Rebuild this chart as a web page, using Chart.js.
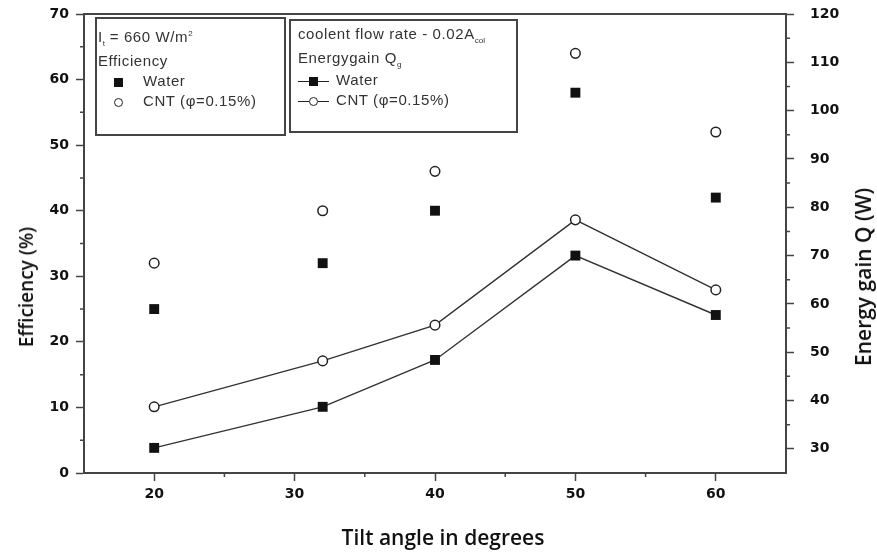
<!DOCTYPE html>
<html>
<head>
<meta charset="utf-8">
<script src="https://cdn.jsdelivr.net/npm/chart.js@4.4.1/dist/chart.umd.min.js"></script>
<style>
  body { margin: 0; background: #fff; }
  #wrap { position: relative; width: 877px; height: 552px; }
  .box { position: absolute; border: 2px solid #444; box-sizing: border-box; font-family: "Liberation Sans", Arial, sans-serif; font-size: 15px; letter-spacing: 0.6px; color: #333; }
  .row { position: absolute; left: 0; white-space: nowrap; line-height: 18px; }
  .sq { display: inline-block; width: 9px; height: 9px; background: #111; vertical-align: middle; }
  .ci { display: inline-block; width: 7px; height: 7px; border: 1.5px solid #222; border-radius: 50%; vertical-align: middle; background: #fff; }
  .ln { display: inline-block; width: 11px; height: 0; border-top: 1.5px solid #222; vertical-align: middle; }
  .title { position: absolute; font-family: "Open Sans", sans-serif; font-weight: 600; color: #111; white-space: nowrap; }
  sub, sup { font-size: 8px; letter-spacing: 0; }
</style>
</head>
<body>
<div id="wrap">
  <canvas id="tiltChart"></canvas>

  <div class="box" style="left:95px;top:17px;width:191px;height:119px;">
    <div class="row" style="left:1px;top:6px;">I<sub>t</sub> = 660 W/m<sup>2</sup></div>
    <div class="row" style="left:1px;top:33px;">Efficiency</div>
    <div class="row" style="left:17px;top:53px;"><span class="sq"></span><span style="margin-left:20px;">Water</span></div>
    <div class="row" style="left:17px;top:73px;"><span class="ci"></span><span style="margin-left:20px;">CNT (φ=0.15%)</span></div>
  </div>

  <div class="box" style="left:289px;top:19px;width:229px;height:114px;">
    <div class="row" style="left:7px;top:4px;">coolent flow rate - 0.02A<sub>col</sub></div>
    <div class="row" style="left:7px;top:28px;">Energygain Q<sub>g</sub></div>
    <div class="row" style="left:7px;top:50px;"><span class="ln"></span><span class="sq"></span><span class="ln"></span><span style="margin-left:7px;">Water</span></div>
    <div class="row" style="left:7px;top:70px;"><span class="ln"></span><span class="ci"></span><span class="ln"></span><span style="margin-left:7px;">CNT (φ=0.15%)</span></div>
  </div>

  <div class="title" style="left:443px;top:537px;font-size:21px;transform:translate(-50%,-50%);">Tilt angle in degrees</div>
  <div class="title" style="left:26px;top:287px;font-size:19px;transform:translate(-50%,-50%) rotate(-90deg);">Efficiency (%)</div>
  <div class="title" style="left:863px;top:277px;font-size:21px;transform:translate(-50%,-50%) rotate(-90deg);">Energy gain Q (W)</div>
</div>

<script>
const tiltAngles = [20, 32, 40, 50, 60];

const efficiencyWater = [25, 32, 40, 58, 42];
const efficiencyCnt = [32, 40, 46, 64, 52];

const energyWater = [30.2, 38.7, 48.4, 70.0, 57.7];
const energyCnt = [38.7, 48.2, 55.6, 77.4, 62.9];

const xTicks = [20, 30, 40, 50, 60];
const efficiencyTicks = [0, 10, 20, 30, 40, 50, 60, 70];
const energyTicks = [30, 40, 50, 60, 70, 80, 90, 100, 110, 120];

const ink = "#222";
const tickFont = { family: "'DejaVu Sans', Arial", weight: "bold", size: 14 };

function toPoints(values) {
  return values.map((v, i) => ({ x: tiltAngles[i], y: v }));
}

function fixedTicks(list) {
  return (scale) => {
    scale.ticks = list.map((v) => ({ value: v }));
  };
}

// frame top line + minor ticks halfway between the major ones
const frameAndMinor = {
  id: "frameAndMinor",
  afterDraw(chart) {
    const { ctx, chartArea, scales } = chart;
    ctx.save();
    ctx.strokeStyle = "#444";
    ctx.lineWidth = 2;
    ctx.beginPath();
    ctx.moveTo(chartArea.left - 1, chartArea.top);
    ctx.lineTo(chartArea.right + 1, chartArea.top);
    ctx.stroke();

    ctx.lineWidth = 1.5;
    const minor = (list) => {
      const step = list[1] - list[0];
      const out = [list[0] - step / 2];
      list.forEach((v) => out.push(v + step / 2));
      return out;
    };
    ctx.beginPath();
    minor(xTicks).forEach((v) => {
      if (v <= scales.x.min || v >= scales.x.max) return;
      const px = scales.x.getPixelForValue(v);
      ctx.moveTo(px, chartArea.bottom);
      ctx.lineTo(px, chartArea.bottom + 4);
    });
    minor(efficiencyTicks).forEach((v) => {
      if (v <= scales.y.min || v >= scales.y.max) return;
      const py = scales.y.getPixelForValue(v);
      ctx.moveTo(chartArea.left, py);
      ctx.lineTo(chartArea.left - 4, py);
    });
    minor(energyTicks).forEach((v) => {
      if (v <= scales.y2.min || v >= scales.y2.max) return;
      const py = scales.y2.getPixelForValue(v);
      ctx.moveTo(chartArea.right, py);
      ctx.lineTo(chartArea.right + 4, py);
    });
    ctx.stroke();
    ctx.restore();
  },
};

const axisGrid = { drawOnChartArea: false, drawTicks: true, tickLength: 8, tickColor: "#444", tickWidth: 1.5 };
const axisBorder = { display: true, color: "#444", width: 2 };

function sideFit(width) {
  return (scale) => {
    scale.width = width;
    scale.paddingTop = 0;
    scale.paddingBottom = 0;
  };
}

new Chart(document.getElementById("tiltChart"), {
  type: "scatter",
  data: {
    datasets: [
      {
        label: "Efficiency Water",
        data: toPoints(efficiencyWater),
        yAxisID: "y",
        pointStyle: "rect",
        pointRadius: 7,
        backgroundColor: "#111",
        borderColor: "#111",
        borderWidth: 0,
        showLine: false,
      },
      {
        label: "Efficiency CNT",
        data: toPoints(efficiencyCnt),
        yAxisID: "y",
        pointStyle: "circle",
        pointRadius: 4.8,
        backgroundColor: "#fff",
        borderColor: ink,
        borderWidth: 1.5,
        showLine: false,
      },
      {
        label: "Energy Water",
        data: toPoints(energyWater),
        yAxisID: "y2",
        pointStyle: "rect",
        pointRadius: 7,
        pointBackgroundColor: "#111",
        pointBorderWidth: 0,
        borderColor: "#333",
        borderWidth: 1.4,
        showLine: true,
      },
      {
        label: "Energy CNT",
        data: toPoints(energyCnt),
        yAxisID: "y2",
        pointStyle: "circle",
        pointRadius: 4.8,
        pointBackgroundColor: "#fff",
        pointBorderColor: ink,
        pointBorderWidth: 1.5,
        borderColor: "#333",
        borderWidth: 1.4,
        showLine: true,
      },
    ],
  },
  options: {
    responsive: true,
    maintainAspectRatio: false,
    animation: false,
    layout: { padding: { top: 14, left: 0, right: 0, bottom: 0 } },
    plugins: { legend: { display: false }, tooltip: { enabled: false } },
    scales: {
      x: {
        type: "linear",
        min: 15,
        max: 65,
        afterBuildTicks: fixedTicks(xTicks),
        afterFit: (scale) => { scale.height = 79; },
        grid: axisGrid,
        border: axisBorder,
        ticks: { color: "#111", font: tickFont, padding: 5 },
      },
      y: {
        type: "linear",
        position: "left",
        min: 0,
        max: 70,
        afterBuildTicks: fixedTicks(efficiencyTicks),
        afterFit: sideFit(84),
        grid: axisGrid,
        border: axisBorder,
        ticks: { color: "#111", font: tickFont, padding: 7 },
      },
      y2: {
        type: "linear",
        position: "right",
        min: 25,
        max: 120,
        afterBuildTicks: fixedTicks(energyTicks),
        afterFit: sideFit(91),
        grid: axisGrid,
        border: axisBorder,
        ticks: { color: "#111", font: tickFont, padding: 16 },
      },
    },
  },
  plugins: [frameAndMinor],
});
</script>
</body>
</html>
